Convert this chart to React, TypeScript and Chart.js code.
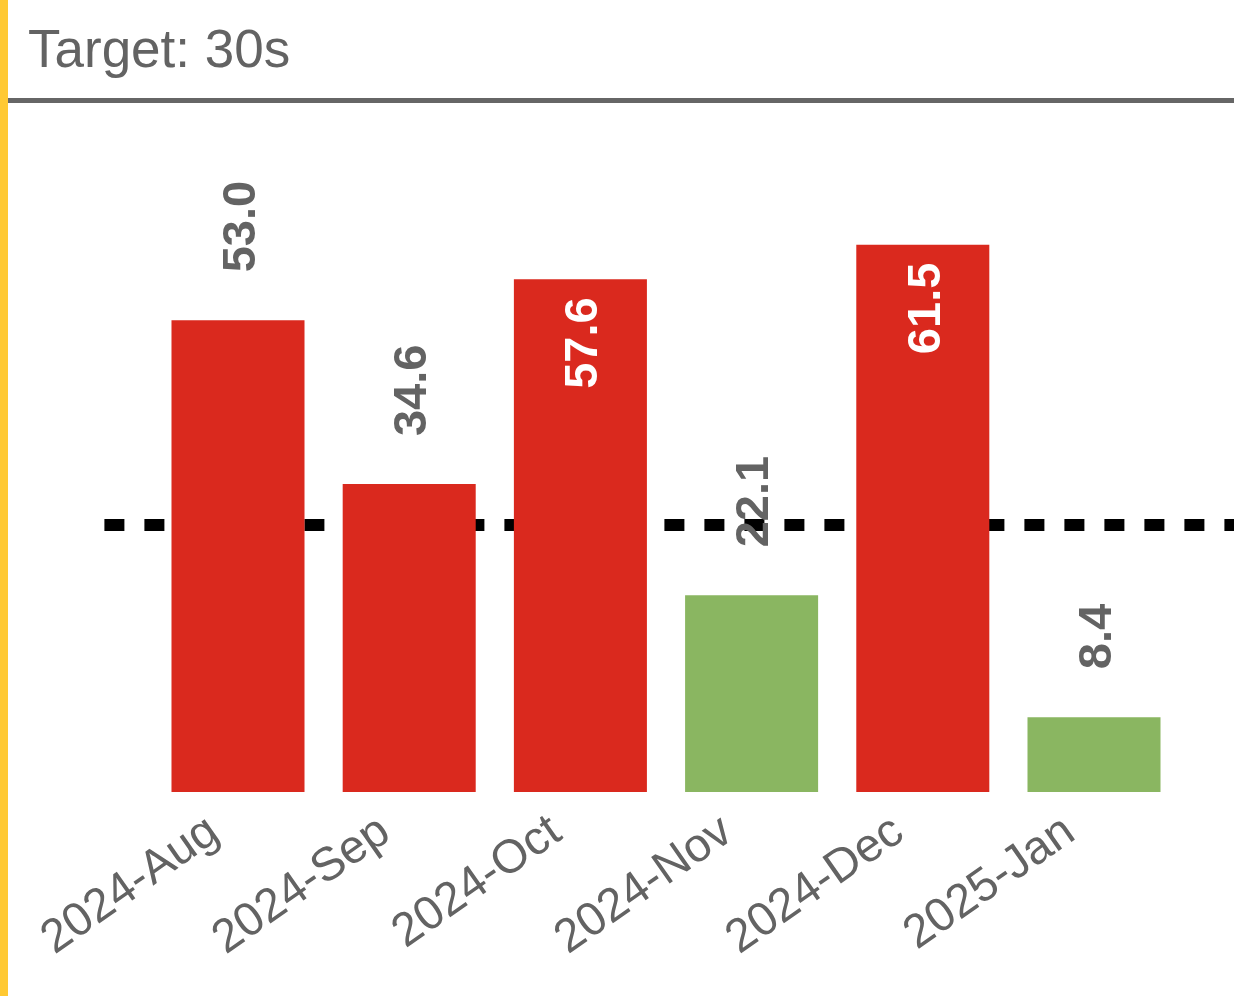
import React, { useEffect, useRef } from "react";
import { Chart, registerables } from "chart.js";

Chart.register(...registerables);

// ---- data ----
const CATEGORIES = ["2024-Aug", "2024-Sep", "2024-Oct", "2024-Nov", "2024-Dec", "2025-Jan"];
const VALUES = [53.0, 34.6, 57.6, 22.1, 61.5, 8.4];
const TARGET = 30;
const TITLE = "Target: 30s";
const Y_MIN = 0;
const Y_MAX = 70;

// ---- style ----
const RED = "#DA291E";
const GREEN = "#8AB661";
const GRAY_TEXT = "#636363";
const RULE_GRAY = "#666666";
const ACCENT = "#FFC933";
const FONT = "'Liberation Sans', Arial, Helvetica, sans-serif";
const LABEL_SIZE = 47;
const OUT_GAP = 48;
const IN_GAP = 18;
const TARGET_LINE_LEAD = 48;

const targetLine = {
  id: "targetLine",
  beforeDatasetsDraw(chart: any) {
    const { ctx, chartArea, scales } = chart;
    const py = scales.y.getPixelForValue(TARGET);
    ctx.save();
    ctx.beginPath();
    ctx.setLineDash([20, 20]);
    ctx.lineWidth = 12;
    ctx.lineCap = "butt";
    ctx.strokeStyle = "#000000";
    ctx.moveTo(chartArea.left - TARGET_LINE_LEAD, py);
    ctx.lineTo(chart.width, py);
    ctx.stroke();
    ctx.restore();
  },
};

const valueLabels = {
  id: "valueLabels",
  afterDatasetsDraw(chart: any) {
    const { ctx, chartArea } = chart;
    const meta = chart.getDatasetMeta(0);
    ctx.save();
    ctx.font = `bold ${LABEL_SIZE}px ${FONT}`;
    meta.data.forEach((bar: any, i: number) => {
      const text = VALUES[i].toFixed(1);
      const w = ctx.measureText(text).width;
      const { x, y } = bar.getProps(["x", "y"], true);
      let start: number;
      let color: string;
      if (y - OUT_GAP - w < chartArea.top) {
        start = y + IN_GAP + w;
        color = "#ffffff";
      } else {
        start = y - OUT_GAP;
        color = GRAY_TEXT;
      }
      ctx.save();
      ctx.translate(x + 0.358 * LABEL_SIZE, start);
      ctx.rotate(-Math.PI / 2);
      ctx.textAlign = "left";
      ctx.textBaseline = "alphabetic";
      ctx.fillStyle = color;
      ctx.fillText(text, 0, 0);
      ctx.restore();
    });
    ctx.restore();
  },
};

export default function App() {
  const ref = useRef<HTMLCanvasElement>(null);

  useEffect(() => {
    document.body.style.margin = "0";
    const chart = new Chart(ref.current as HTMLCanvasElement, {
      type: "bar",
      data: {
        labels: CATEGORIES,
        datasets: [
          {
            data: VALUES,
            backgroundColor: VALUES.map((v) => (v > TARGET ? RED : GREEN)),
            borderWidth: 0,
            barPercentage: 0.777,
            categoryPercentage: 1,
          },
        ],
      },
      options: {
        responsive: false,
        animation: false,
        devicePixelRatio: 1,
        layout: { padding: { left: 144.4, right: 54.4, top: 66, bottom: 0 } },
        plugins: {
          legend: { display: false },
          tooltip: { enabled: false },
          title: { display: false },
        },
        scales: {
          x: {
            grid: { display: false, drawTicks: false },
            border: { display: false },
            ticks: {
              color: GRAY_TEXT,
              font: { family: FONT, size: 47 },
              minRotation: 35,
              maxRotation: 35,
              autoSkip: false,
              padding: 12,
              labelOffset: -24,
            },
            afterFit: (s: any) => {
              s.height = 204;
            },
          },
          y: { display: false, min: Y_MIN, max: Y_MAX },
        },
      } as any,
      plugins: [targetLine, valueLabels],
    });
    return () => chart.destroy();
  }, []);

  return (
    <div
      style={{
        position: "relative",
        width: 1234,
        height: 996,
        boxSizing: "border-box",
        borderLeft: `8px solid ${ACCENT}`,
        background: "#ffffff",
        overflow: "hidden",
      }}
    >
      <div
        style={{
          position: "absolute",
          left: 0,
          top: 0,
          width: 1226,
          height: 98,
          borderBottom: `5px solid ${RULE_GRAY}`,
        }}
      />
      <div
        style={{
          position: "absolute",
          left: 20,
          top: 22,
          font: `53px ${FONT}`,
          lineHeight: "53px",
          color: GRAY_TEXT,
          whiteSpace: "nowrap",
        }}
      >
        {TITLE}
      </div>
      <canvas
        ref={ref}
        width={1226}
        height={893}
        style={{ position: "absolute", left: 0, top: 103, width: 1226, height: 893 }}
      />
    </div>
  );
}
